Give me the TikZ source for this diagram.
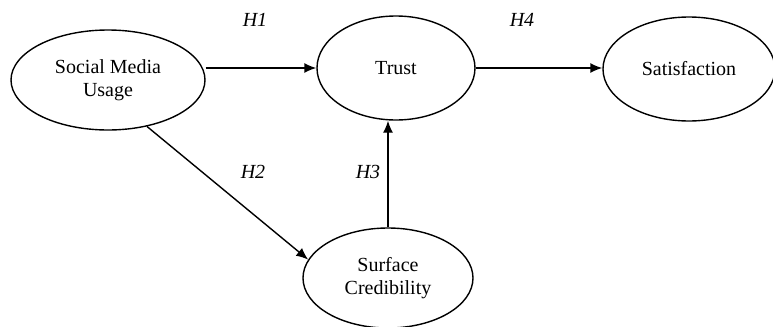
\documentclass[tikz,border=0pt]{standalone}
\usepackage{fontspec}
\setmainfont{Liberation Serif}
\usetikzlibrary{shapes.geometric,arrows.meta}
\tikzset{
  construct/.style={draw, ellipse, line width=0.7pt, inner sep=0pt, align=center, font=\fontsize{10}{11.5}\selectfont},
  path/.style={line width=0.7pt, -{Latex[length=6pt,width=5pt]}},
  hyp/.style={font=\fontsize{10}{12}\selectfont\itshape}
}
\begin{document}
\begin{tikzpicture}[x=0.5pt, y=-0.5pt]
        \useasboundingbox (0,0) rectangle (773,327);
        \node[construct, minimum width=97pt, minimum height=50pt] (smu) at (108,80) {Social Media\\Usage}; %usage
        \node[construct, minimum width=79pt, minimum height=52pt] (trust) at (396,68) {Trust}; %trust
        \node[construct, minimum width=86pt, minimum height=52pt] (sat) at (689,69) {Satisfaction}; %satisfaction
        \node[construct, minimum width=85pt, minimum height=50pt] (cred) at (388,278) {Surface\\Credibility}; %credibility
        \draw[path] (trust.west -| smu.east) -- (trust.west); %H1
        \draw[path] (smu.-50) -- (cred.167); %H2
        \draw[path] (cred.north) -- (cred.north |- trust.south); %H3
        \draw[path] (trust.east) -- (trust.east -| sat.west); %H4
        \node[hyp] (h1) at (255,20) {H1};
        \node[hyp] (h2) at (253,172) {H2};
        \node[hyp] (h3) at (368,172) {H3};
        \node[hyp] (h4) at (522,20) {H4};
    \end{tikzpicture}
\end{document}
